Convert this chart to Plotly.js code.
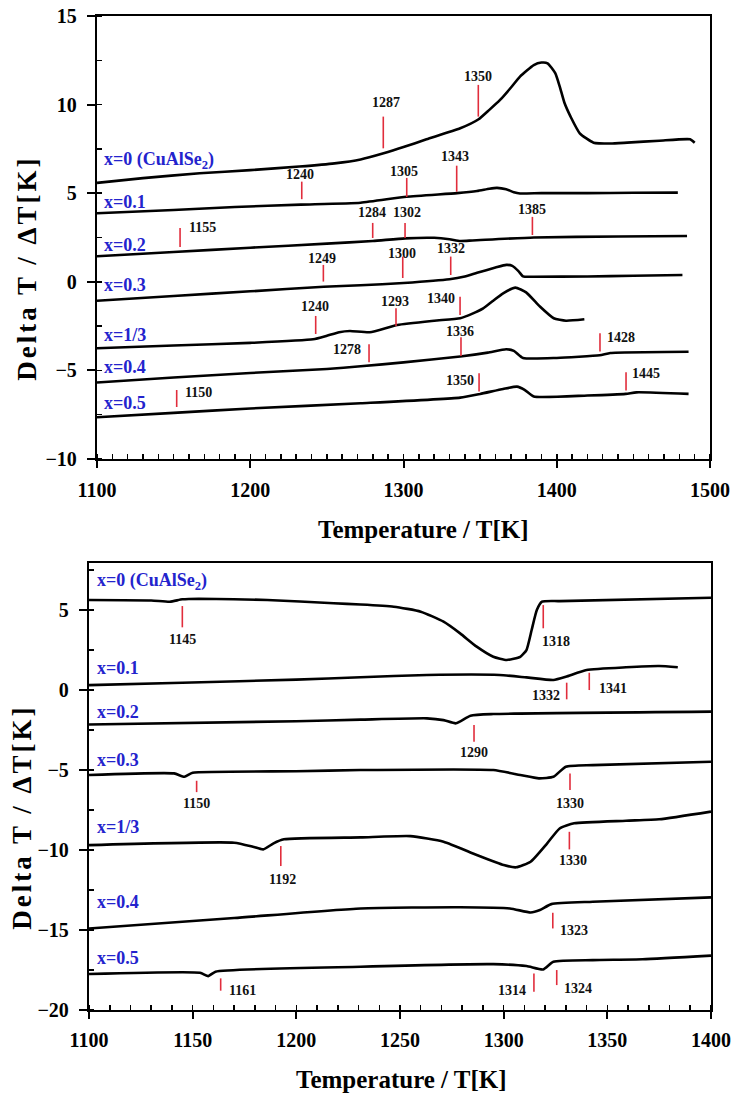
<!DOCTYPE html>
<html>
<head>
<meta charset="utf-8">
<script src="https://cdn.plot.ly/plotly-3.0.1.min.js"></script>
<style>
body{margin:0;padding:0;background:#fff;}
#chart{width:731px;height:1093px;}
text.annotation-text[data-unformatted^="Delta"]{letter-spacing:3px;}
</style>
</head>
<body>
<div id="chart"></div>
<script>
// ---------- Heating (top panel) ----------
const seriesNames = ["x=0 (CuAlSe<sub>2</sub>)", "x=0.1", "x=0.2", "x=0.3", "x=1/3", "x=0.4", "x=0.5"];

const heatT0 = [1100,1130,1167,1200,1232,1255,1272,1287,1300,1315,1337,1349,1356,1363,1370,1376,1385,1390,1394,1399,1402,1405,1409,1415,1424,1435,1446,1467,1487,1490];
const heatY0 = [5.58,5.85,6.12,6.3,6.5,6.68,6.9,7.25,7.6,8.04,8.66,9.17,9.7,10.26,10.95,11.58,12.23,12.37,12.33,11.77,11.0,10.1,9.32,8.38,7.85,7.8,7.85,7.96,8.04,7.85];
const heatT1 = [1100,1150,1190,1233,1272,1302,1335,1348,1356,1361,1367,1372,1376,1390,1420,1450,1479];
const heatY1 = [3.87,4.05,4.22,4.35,4.46,4.8,5.0,5.12,5.25,5.3,5.22,5.05,4.98,5.0,5.0,5.02,5.03];
const heatT2 = [1100,1150,1200,1250,1280,1301,1320,1330,1337,1345,1385,1440,1485];
const heatY2 = [1.44,1.68,1.92,2.15,2.3,2.45,2.48,2.4,2.3,2.33,2.5,2.55,2.58];
const heatT3 = [1100,1150,1200,1248,1272,1300,1330,1340,1348,1360,1367,1371,1375,1378,1385,1420,1450,1482];
const heatY3 = [-1.07,-0.8,-0.54,-0.28,-0.2,-0.07,0.14,0.3,0.51,0.8,0.95,0.9,0.6,0.3,0.28,0.3,0.34,0.38];
const heatT4 = [1100,1150,1200,1241,1250,1258,1265,1278,1296,1320,1337,1345,1352,1358,1365,1373,1380,1389,1398,1406,1418];
const heatY4 = [-3.75,-3.6,-3.45,-3.25,-3.05,-2.85,-2.78,-2.85,-2.44,-2.2,-2.06,-1.8,-1.5,-1.1,-0.65,-0.33,-0.6,-1.4,-2.06,-2.2,-2.12];
const heatT5 = [1100,1150,1200,1250,1272,1300,1337,1355,1367,1372,1378,1400,1428,1435,1486];
const heatY5 = [-5.69,-5.4,-5.15,-4.92,-4.77,-4.55,-4.22,-4.0,-3.81,-3.9,-4.3,-4.3,-4.15,-4.02,-3.95];
const heatT6 = [1100,1150,1200,1272,1337,1350,1365,1374,1379,1385,1420,1445,1452,1486];
const heatY6 = [-7.65,-7.4,-7.15,-6.86,-6.54,-6.33,-6.05,-5.92,-6.1,-6.48,-6.42,-6.33,-6.24,-6.33];

// ---------- Cooling (bottom panel) ----------
const coolT0 = [1100,1130,1139,1145,1153,1186,1218,1231,1247,1260,1271,1279,1287,1295,1301.5,1308,1311,1313.5,1316,1318.5,1327,1400];
const coolY0 = [5.63,5.6,5.52,5.67,5.71,5.63,5.42,5.35,5.21,4.9,4.27,3.54,2.71,2.08,1.88,2.08,2.5,3.75,5.0,5.52,5.56,5.77];
const coolT1 = [1100,1145,1200,1231,1263,1298,1311,1324,1330,1340,1359,1375,1384];
const coolY1 = [0.31,0.46,0.65,0.8,0.94,0.94,0.79,0.63,0.83,1.25,1.42,1.5,1.42];
const coolT2 = [1100,1200,1231,1263,1271,1277,1284,1295,1400];
const coolY2 = [-2.15,-1.95,-1.85,-1.77,-1.88,-2.08,-1.6,-1.5,-1.35];
const coolT3 = [1100,1141,1146,1150,1200,1231,1295,1308,1317,1324,1330,1343,1400];
const coolY3 = [-5.31,-5.21,-5.42,-5.17,-5.08,-5.0,-5.0,-5.31,-5.52,-5.42,-4.79,-4.69,-4.48];
const coolT4 = [1100,1170,1179,1184,1189,1194,1231,1255,1271,1287,1300,1306,1313,1321,1327,1334,1359,1375,1400];
const coolY4 = [-9.69,-9.54,-9.79,-9.96,-9.58,-9.33,-9.21,-9.13,-9.48,-10.31,-10.94,-11.08,-10.73,-9.58,-8.65,-8.33,-8.17,-8.08,-7.6];
const coolT5 = [1100,1170,1231,1279,1303,1313,1317.5,1323,1343,1400];
const coolY5 = [-14.9,-14.25,-13.65,-13.58,-13.65,-13.9,-13.75,-13.38,-13.23,-12.96];
const coolT6 = [1100,1153.5,1157.5,1161,1231,1295,1311,1319,1324,1343,1367,1400];
const coolY6 = [-17.75,-17.67,-17.88,-17.6,-17.29,-17.13,-17.25,-17.46,-16.98,-16.88,-16.83,-16.6];

// ---------- Marked temperatures: label, line x, y bottom, y top ----------
const heatMarkLabel = ["1287","1350","1240","1305","1343","1155","1284","1302","1385","1249","1300","1332","1240","1293","1340","1278","1336","1428","1150","1350","1445"];
const heatMarkT     = [1286.8,1348.8,1233.6,1302.1,1334.7,1154.2,1279.9,1301,1384.1,1247.7,1299.5,1330.8,1242.7,1295.1,1336.9,1277.5,1337.5,1428.2,1152,1349.3,1445.2];
const heatMarkY0    = [7.53,9.32,4.66,4.79,5.08,1.96,2.47,2.47,2.64,0.01,0.21,0.38,-2.95,-2.5,-1.87,-4.54,-4.19,-3.94,-7.07,-6.2,-6.14];
const heatMarkY1    = [9.32,11.11,5.65,5.86,6.55,3.04,3.32,3.32,3.66,0.95,1.42,1.42,-1.93,-1.5,-0.84,-3.53,-3.13,-2.91,-6.11,-5.16,-5.11];

const coolMarkLabel = ["1145","1318","1332","1341","1290","1150","1330","1192","1330","1323","1161","1314","1324"];
const coolMarkT     = [1145,1319.1,1330.4,1341.3,1285.7,1151.9,1332,1192.5,1331.7,1323.7,1163.5,1314.6,1325.6];
const coolMarkY0    = [3.92,3.86,-0.58,0,-3.23,-6.38,-6.25,-11,-9.96,-14.9,-18.79,-18.86,-18.44];
const coolMarkY1    = [5.25,5.31,0.46,1.08,-2.19,-5.67,-5.21,-9.75,-8.86,-13.92,-18.02,-17.71,-17.5];

// label placement (positioning only)
const heatLabPos = [
  ["c",1288.4,10.09],["c",1348.8,11.61],["c",1232.3,6.03],["c",1300.5,6.21],["c",1333.6,7.06],
  ["l",1158.8,3.04],["c",1279.5,3.88],["c",1302.3,3.88],["c",1384.1,4.05],["c",1246.8,1.29],
  ["c",1298.9,1.57],["c",1330.8,1.85],["c",1242.1,-1.4],["c",1294.5,-1.12],["r",1334.8,-0.93],
  ["r",1273.7,-3.85],["c",1336.9,-2.82],["l",1431.5,-3.13],["l",1156.1,-6.26],["r",1347.3,-5.58],["l",1447.8,-5.16]
];
const coolLabPos = [
  ["c",1145,3.13],["l",1317.5,3.02],["r",1328,-0.31],["l",1344.9,0.1],["c",1285.7,-3.92],
  ["c",1152,-7.08],["c",1332,-7.06],["c",1193.1,-11.83],["c",1333.3,-10.67],["l",1326.4,-15.04],
  ["l",1166.6,-18.75],["r",1311.9,-18.75],["l",1328,-18.64]
];
const heatNameY = [6.87,4.52,2.08,-0.18,-3.0,-4.83,-6.86];
const coolNameY = [6.77,1.36,-1.36,-4.38,-8.54,-13.23,-16.77];

// ---------- build ----------
const FONT = "Liberation Serif";
const heatT = [heatT0,heatT1,heatT2,heatT3,heatT4,heatT5,heatT6];
const heatY = [heatY0,heatY1,heatY2,heatY3,heatY4,heatY5,heatY6];
const coolT = [coolT0,coolT1,coolT2,coolT3,coolT4,coolT5,coolT6];
const coolY = [coolY0,coolY1,coolY2,coolY3,coolY4,coolY5,coolY6];

const traces = [];
heatT.forEach((t,i)=>traces.push({x:t,y:heatY[i],xaxis:'x',yaxis:'y',mode:'lines',
  line:{color:'#000',width:2.6,shape:'spline',smoothing:0.5},hoverinfo:'skip'}));
coolT.forEach((t,i)=>traces.push({x:t,y:coolY[i],xaxis:'x2',yaxis:'y2',mode:'lines',
  line:{color:'#000',width:2.6,shape:'spline',smoothing:0.5},hoverinfo:'skip'}));

const shapes = [];
const annotations = [];
const RED = 'rgb(225,45,60)';
function addMarks(labels,T,Y0,Y1,pos,xr,yr){
  labels.forEach((lab,i)=>{
    shapes.push({type:'line',xref:xr,yref:yr,x0:T[i],x1:T[i],y0:Y0[i],y1:Y1[i],line:{color:RED,width:1.6}});
    const p = pos[i];
    annotations.push({xref:xr,yref:yr,x:p[1],y:p[2],text:lab,showarrow:false,
      xanchor:p[0]==='c'?'center':(p[0]==='l'?'left':'right'),yanchor:'middle',
      font:{family:FONT,size:14,color:'#111',weight:'bold'}});
  });
}
addMarks(heatMarkLabel,heatMarkT,heatMarkY0,heatMarkY1,heatLabPos,'x','y');
addMarks(coolMarkLabel,coolMarkT,coolMarkY0,coolMarkY1,coolLabPos,'x2','y2');

const BLUE = 'rgb(35,35,205)';
seriesNames.forEach((n,i)=>{
  annotations.push({xref:'x',yref:'y',x:1103.5,y:heatNameY[i],text:n,showarrow:false,xanchor:'left',yanchor:'middle',
    font:{family:FONT,size:18,color:BLUE,weight:'bold'}});
  annotations.push({xref:'x2',yref:'y2',x:1103,y:coolNameY[i],text:n,showarrow:false,xanchor:'left',yanchor:'middle',
    font:{family:FONT,size:18,color:BLUE,weight:'bold'}});
});

// axis titles
annotations.push({xref:'paper',yref:'paper',x:0.5787,y:0.5151,text:'Temperature / T[K]',showarrow:false,
  xanchor:'center',yanchor:'middle',font:{family:FONT,size:25,color:'#000',weight:'bold'}});
annotations.push({xref:'paper',yref:'paper',x:0.5486,y:0.0125,text:'Temperature / T[K]',showarrow:false,
  xanchor:'center',yanchor:'middle',font:{family:FONT,size:25,color:'#000',weight:'bold'}});
annotations.push({xref:'paper',yref:'paper',x:0.0365,y:0.7548,text:'Delta T / ΔT[K]',textangle:-90,showarrow:false,
  xanchor:'center',yanchor:'middle',font:{family:FONT,size:27,color:'#000',weight:'bold'}});
annotations.push({xref:'paper',yref:'paper',x:0.0297,y:0.2525,text:'Delta T / ΔT[K]',textangle:-90,showarrow:false,
  xanchor:'center',yanchor:'middle',font:{family:FONT,size:27,color:'#000',weight:'bold'}});

const tickFont = {family:FONT,size:20,color:'#000',weight:'bold'};
const axBase = {showgrid:false,zeroline:false,showline:true,linecolor:'#000',linewidth:2.2,mirror:true,
  ticks:'outside',tickcolor:'#000',tickwidth:2,tickfont:tickFont};

const layout = {
  width:731,height:1093,margin:{l:0,r:0,t:0,b:0},paper_bgcolor:'#fff',plot_bgcolor:'#fff',showlegend:false,
  font:{family:FONT},
  xaxis:Object.assign({},axBase,{domain:[0.1327,0.9713],anchor:'y',range:[1100,1500],dtick:100,tick0:1100,ticklen:7,ticklabelstandoff:5,
    minor:{ticks:'inside',dtick:10,ticklen:5,tickwidth:1.5,tickcolor:'#000'}}),
  yaxis:Object.assign({},axBase,{domain:[0.5801,0.9854],anchor:'x',range:[-10,15],dtick:5,ticklen:8,ticklabelstandoff:6,
    minor:{ticks:'inside',dtick:2.5,ticklen:5,tickwidth:1.5,tickcolor:'#000'}}),
  xaxis2:Object.assign({},axBase,{domain:[0.1218,0.9726],anchor:'y2',range:[1100,1400],dtick:50,tick0:1100,ticklen:7,ticklabelstandoff:4,
    minor:{ticks:'inside',dtick:10,ticklen:5,tickwidth:1.5,tickcolor:'#000'}}),
  yaxis2:Object.assign({},axBase,{domain:[0.0759,0.4849],anchor:'x2',range:[-20,7.94],tickvals:[-20,-15,-10,-5,0,5],ticklen:8,ticklabelstandoff:6,
    minor:{ticks:'inside',dtick:2.5,ticklen:5,tickwidth:1.5,tickcolor:'#000'}}),
  shapes:shapes,annotations:annotations
};

Plotly.newPlot('chart',traces,layout,{staticPlot:true,displayModeBar:false});
</script>
</body>
</html>
